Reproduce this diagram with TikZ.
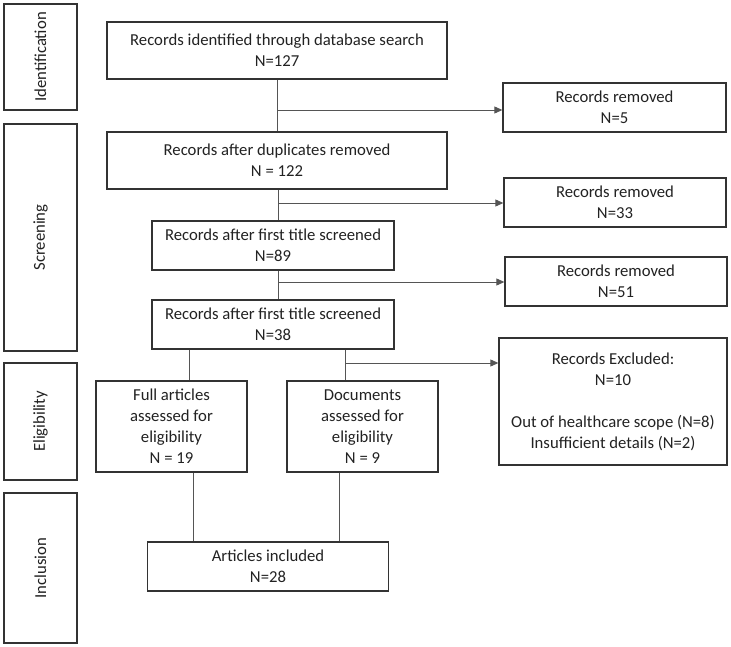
\documentclass[tikz,border=0pt]{standalone}
\usepackage{fontspec}
\setmainfont{Carlito}
\usetikzlibrary{arrows.meta}
\definecolor{txt}{HTML}{222222}
\definecolor{edge}{HTML}{333333}
\definecolor{conn}{HTML}{555555}
\tikzset{
  box/.style={draw=edge, line width=1.3pt, fill=white, align=center, text=txt,
    font=\fontsize{16.7}{21}\selectfont, inner sep=0pt},
  stage/.style={box, rotate=90},
  link/.style={draw=conn, line width=0.9pt},
  arr/.style={link, -{Triangle[length=8pt,width=7pt]}},
}
\begin{document}
\begin{tikzpicture}[x=1pt,y=-1pt]
\useasboundingbox (0,0) rectangle (731,647);
% stage boxes (rotated: minimum width = vertical extent)
\node[stage, minimum width=106pt, minimum height=73pt] (sid) at (40.5,57) {Identification};
\node[stage, minimum width=227pt, minimum height=73pt] (ssc) at (40.5,237.5) {Screening};
\node[stage, minimum width=117pt, minimum height=73pt] (sel) at (40.5,421.5) {Eligibility};
\node[stage, minimum width=150pt, minimum height=73pt] (sin) at (40.5,568) {Inclusion};
% main boxes
\node[box, minimum width=340pt, minimum height=57pt] (b1) at (277,50.5) {Records identified through database search\\N=127};
\node[box, minimum width=340pt, minimum height=57pt] (b2) at (277,160.5) {Records after duplicates removed\\N = 122};
\node[box, minimum width=242pt, minimum height=49pt] (b3) at (273,245.5) {Records after first title screened\\N=89};
\node[box, minimum width=242pt, minimum height=49pt] (b4) at (273,324.5) {Records after first title screened\\N=38};
\node[box, minimum width=151pt, minimum height=91pt] (e1) at (171.5,426.5) {Full articles\\assessed for\\eligibility\\N = 19};
\node[box, minimum width=151pt, minimum height=91pt] (e2) at (362.5,426.5) {Documents\\assessed for\\eligibility\\N = 9};
\node[box, minimum width=241pt, minimum height=49pt] (inc) at (268,566.5) {Articles included\\N=28};
% side boxes
\node[box, minimum width=223pt, minimum height=49pt] (r1) at (614.5,107.5) {Records removed\\N=5};
\node[box, minimum width=222pt, minimum height=49pt] (r2) at (615,202.5) {Records removed\\N=33};
\node[box, minimum width=222pt, minimum height=49pt] (r3) at (616,281.5) {Records removed\\N=51};
\node[box, minimum width=228pt, minimum height=127pt] (ex) at (613,401.5) {Records Excluded:\\N=10\\[21pt]Out of healthcare scope (N=8)\\Insufficient details (N=2)};
% junction coordinates
\coordinate (j1) at (278,110);
\coordinate (j2) at (278,203);
\coordinate (j3) at (278,282);
\coordinate (j4) at (345,363);
% connectors
\draw[link] (b1.south) -- (b2.north);
\draw[arr] (j1) -- (j1 -| r1.west);
\draw[link] (b2.south -| j2) -- (b3.north -| j2);
\draw[arr] (j2) -- (j2 -| r2.west);
\draw[link] (b3.south -| j3) -- (b4.north -| j3);
\draw[arr] (j3) -- (j3 -| r3.west);
\draw[link] (b4.south -| 189,0) -- (e1.north -| 189,0);
\draw[link] (b4.south -| j4) -- (e2.north -| j4);
\draw[arr] (j4) -- (j4 -| ex.west);
\draw[link] (e1.south -| 193,0) -- (inc.north -| 193,0);
\draw[link] (e2.south -| 339,0) -- (inc.north -| 339,0);
\end{tikzpicture}
\end{document}
